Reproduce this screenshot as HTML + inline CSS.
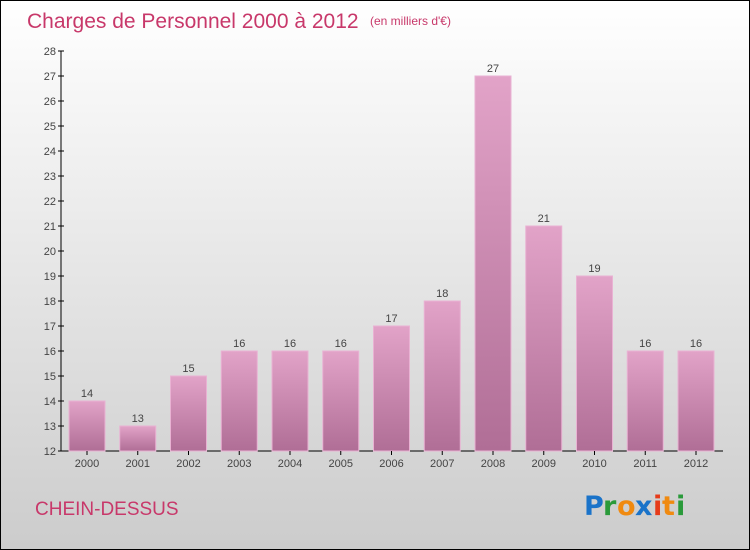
<!DOCTYPE html>
<html><head><meta charset="utf-8"><style>
body{margin:0}
#c{position:relative;width:748px;height:548px;border:1px solid #000;background:linear-gradient(#ffffff,#cccccc);font-family:"Liberation Sans",sans-serif;overflow:hidden}
</style></head><body>
<div id="c">
<svg width="748" height="548" style="position:absolute;left:0;top:0">
<defs><linearGradient id="bg" x1="0" y1="0" x2="0" y2="1"><stop offset="0" stop-color="#e2a3c8"/><stop offset="1" stop-color="#b06e96"/></linearGradient></defs>
<text x="26" y="27" font-size="21" fill="#c8386a">Charges de Personnel 2000 à 2012</text>
<text x="369" y="24" font-size="12" fill="#c8386a">(en milliers d'€)</text>
<text x="34" y="514" font-size="19" fill="#c8386a">CHEIN-DESSUS</text>
<g font-size="27" font-weight="bold" font-family="'DejaVu Sans',sans-serif">
<text x="583" y="514" fill="#1a73c9">P</text><text x="602" y="514" fill="#2a9a3a">r</text><text x="616" y="514" fill="#f08a10">o</text><text x="634" y="514" fill="#1a73c9">x</text><text x="652" y="514" fill="#e63b1a">i</text><text x="661" y="514" fill="#f08a10">t</text><text x="675" y="514" fill="#2a9a3a">i</text></g>
<g id="plot"></g>
</svg>
</div>
<script>
const categories=["2000","2001","2002","2003","2004","2005","2006","2007","2008","2009","2010","2011","2012"];
const values=[14,13,15,16,16,16,17,18,27,21,19,16,16];
const yTicks=[12,13,14,15,16,17,18,19,20,21,22,23,24,25,26,27,28];
const NS="http://www.w3.org/2000/svg";
const g=document.getElementById('plot');
const y0=450,yMin=12,yMax=28,yTop=50;
function y(v){return y0-(v-yMin)/(yMax-yMin)*(y0-yTop);}
function x(i){return 86+i*50.75;}
function mk(t,a){const e=document.createElementNS(NS,t);for(const k in a)e.setAttribute(k,a[k]);g.appendChild(e);return e;}
let ax=mk('line',{x1:60,y1:yTop,x2:60,y2:y0,stroke:'#000'});


let bx=mk('line',{x1:60,y1:y0,x2:722,y2:y0,stroke:'#000'});


yTicks.forEach(t=>{
 const tk=mk('line',{x1:57,x2:63,y1:y(t),y2:y(t),stroke:'#000'});
 
 
 const tl=mk('text',{x:55,y:y(t)+4,'text-anchor':'end','font-size':11,fill:'#444'});
 tl.textContent=t;
 
 
});
categories.forEach((c,i)=>{
 const cx=x(i),v=values[i];
 const r=mk('rect',{x:cx-18,y:y(v),width:36,height:y0-y(v),fill:'url(#bg)',stroke:'#e9b2d3','stroke-width':1});
 
 
 const vl=mk('text',{x:cx,y:y(v)-4,'text-anchor':'middle','font-size':11,fill:'#444'});
 vl.textContent=v;
 
 
 const tk=mk('line',{x1:cx,x2:cx,y1:y0,y2:y0+4,stroke:'#000'});
 
 
 const xl=mk('text',{x:cx,y:466,'text-anchor':'middle','font-size':11,fill:'#444'});
 xl.textContent=c;
 
 
});
</script>
</body></html>
